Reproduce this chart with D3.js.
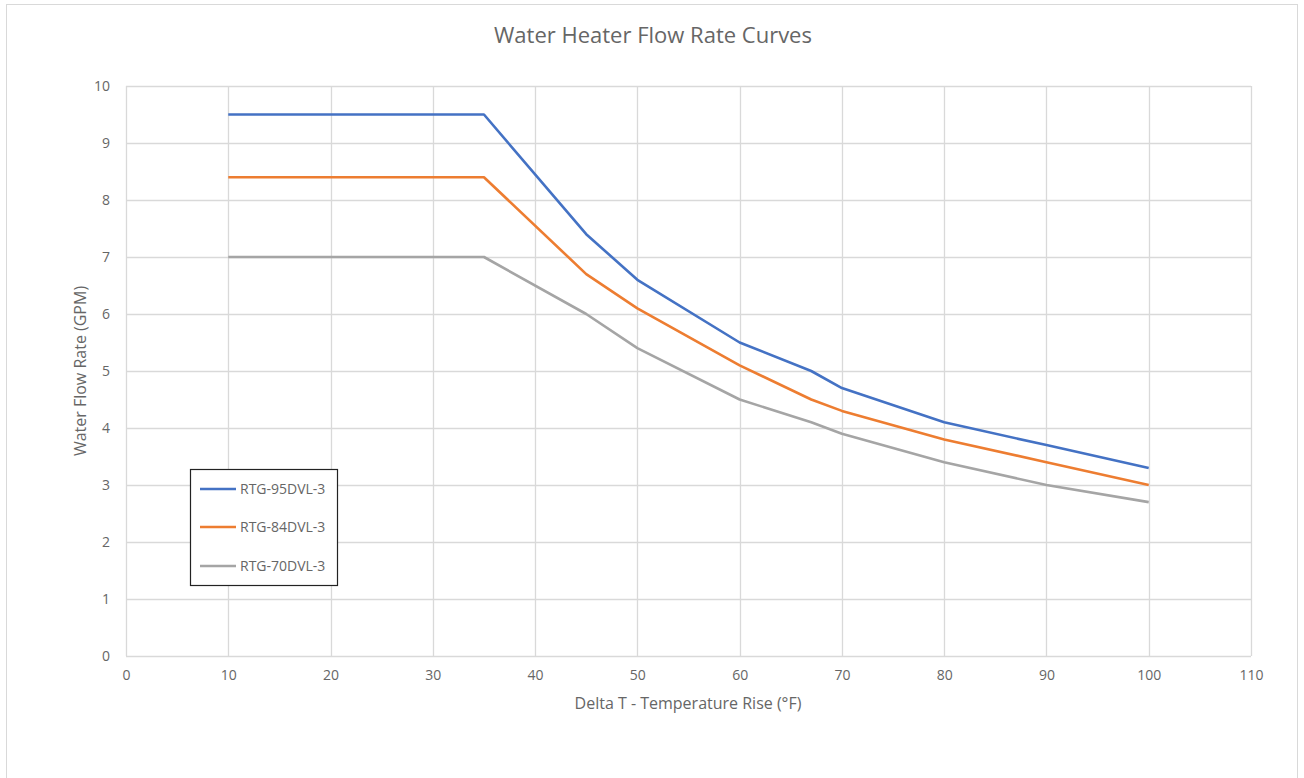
<!DOCTYPE html>
<html>
<head>
<meta charset="utf-8">
<script src="https://cdn.jsdelivr.net/npm/d3@7"></script>
<style>
  html, body { margin: 0; padding: 0; background: #fff; }
  text { font-family: "Open Sans", Lato, sans-serif; fill: #666666; }
</style>
</head>
<body>
<svg id="chart" width="1304" height="778"></svg>
<script>
const xValues = [10, 35, 45, 50, 60, 67, 70, 80, 90, 100];
const rtg95 = [9.5, 9.5, 7.4, 6.6, 5.5, 5.0, 4.7, 4.1, 3.7, 3.3];
const rtg84 = [8.4, 8.4, 6.7, 6.1, 5.1, 4.5, 4.3, 3.8, 3.4, 3.0];
const rtg70 = [7.0, 7.0, 6.0, 5.4, 4.5, 4.1, 3.9, 3.4, 3.0, 2.7];
const seriesNames = ["RTG-95DVL-3", "RTG-84DVL-3", "RTG-70DVL-3"];
const seriesColors = ["#4472C4", "#ED7D31", "#A5A5A5"];
const xTicks = [0, 10, 20, 30, 40, 50, 60, 70, 80, 90, 100, 110];
const yTicks = [0, 1, 2, 3, 4, 5, 6, 7, 8, 9, 10];

const svg = d3.select("#chart");
svg.append("rect").attr("x", 6.5).attr("y", 4.5).attr("width", 1291).attr("height", 780)
  .attr("fill", "#fff").attr("stroke", "#d9d9d9").attr("stroke-width", 1);

const x = d3.scaleLinear().domain([0, 110]).range([126, 1251]);
const y = d3.scaleLinear().domain([0, 10]).range([656, 86]);

// gridlines
const g = svg.append("g");
g.selectAll(".vg").data(xTicks).join("line")
  .attr("x1", d => Math.round(x(d)) + 0.5).attr("x2", d => Math.round(x(d)) + 0.5)
  .attr("y1", y(10)).attr("y2", y(0))
  .attr("stroke", "#d9d9d9").attr("stroke-width", 1.3);
g.selectAll(".hg").data(yTicks).join("line")
  .attr("y1", d => Math.round(y(d)) + 0.5).attr("y2", d => Math.round(y(d)) + 0.5)
  .attr("x1", x(0)).attr("x2", x(110))
  .attr("stroke", "#d9d9d9").attr("stroke-width", 1.3);

// axes labels via d3 axes
const xAxis = d3.axisBottom(x).tickValues(xTicks).tickSize(0).tickPadding(14);
const yAxis = d3.axisLeft(y).tickValues(yTicks).tickSize(0).tickPadding(16);
const gx = svg.append("g").attr("transform", `translate(0,${y(0)})`).call(xAxis);
const gy = svg.append("g").attr("transform", `translate(${x(0)},0)`).call(yAxis);
[gx, gy].forEach(a => {
  a.select(".domain").remove();
  a.selectAll("text").style("font-family", "'Open Sans', Lato, sans-serif")
    .style("font-size", "14px").attr("fill", "#666666");
});

// lines
const seriesData = [rtg95, rtg84, rtg70];
const line = d3.line().x((d, i) => x(xValues[i])).y(d => y(d));
svg.append("g").selectAll("path").data(seriesData).join("path")
  .attr("d", d => line(d))
  .attr("fill", "none")
  .attr("stroke", (d, i) => seriesColors[i])
  .attr("stroke-width", 2.6)
  .attr("stroke-linejoin", "round");

// title
svg.append("text").attr("x", 653).attr("y", 43).attr("text-anchor", "middle")
  .style("font-size", "22px").text("Water Heater Flow Rate Curves");

// axis titles
svg.append("text").attr("x", 688).attr("y", 709).attr("text-anchor", "middle")
  .style("font-size", "16px").text("Delta T - Temperature Rise (°F)");
svg.append("text").attr("transform", "translate(86,371) rotate(-90)").attr("text-anchor", "middle")
  .style("font-size", "16px").text("Water Flow Rate (GPM)");

// legend
const lg = svg.append("g");
lg.append("rect").attr("x", 190.5).attr("y", 469.5).attr("width", 147).attr("height", 116)
  .attr("fill", "#fff").attr("stroke", "#222").attr("stroke-width", 1.2);
const ly = [489, 527, 566];
seriesNames.forEach((name, i) => {
  lg.append("line").attr("x1", 200).attr("x2", 236).attr("y1", ly[i]).attr("y2", ly[i])
    .attr("stroke", seriesColors[i]).attr("stroke-width", 2.6);
  lg.append("text").attr("x", 240).attr("y", ly[i] + 5)
    .style("font-size", "14px").text(name);
});
</script>
</body>
</html>
